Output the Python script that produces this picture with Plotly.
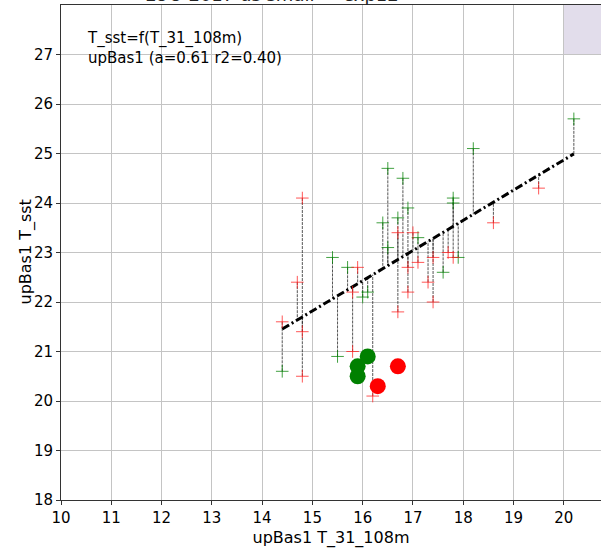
import plotly.graph_objects as go

# ---- data ----
green_x = [14.4, 15.4, 15.5, 15.7, 16.0, 16.1, 16.4, 16.5, 16.5, 16.7, 16.8, 16.9, 17.1, 17.6, 17.8, 17.8, 17.9, 18.2, 20.2]
green_y = [20.6, 22.9, 20.9, 22.7, 22.1, 22.2, 23.6, 24.7, 23.1, 23.7, 24.5, 23.9, 23.3, 22.6, 24.1, 24.0, 22.9, 25.1, 25.7]
red_x = [14.4, 14.7, 14.8, 14.8, 14.8, 15.8, 15.8, 15.9, 16.2, 16.7, 16.7, 16.9, 16.9, 17.0, 17.1, 17.3, 17.4, 17.4, 17.7, 17.8, 18.6, 19.5]
red_y = [21.6, 22.4, 24.1, 21.4, 20.5, 22.2, 21.0, 22.7, 20.1, 23.4, 21.8, 22.7, 22.2, 23.4, 22.8, 22.4, 22.9, 22.0, 23.0, 22.9, 23.6, 24.3]
green_big_x = [15.9, 15.9, 16.1]
green_big_y = [20.7, 20.5, 20.9]
red_big_x = [16.3, 16.7]
red_big_y = [20.3, 20.7]
slope_a = 0.61
intercept_b = 12.67
x_ticks = list(range(10, 21))
y_ticks = list(range(18, 28))

def fit(x):
    return slope_a * x + intercept_b

all_x = green_x + red_x
all_y = green_y + red_y

fig = go.Figure()

# residual lines
lx, ly = [], []
for x, y in zip(all_x, all_y):
    lx += [x, x, None]
    ly += [y, fit(x), None]
fig.add_trace(go.Scatter(x=lx, y=ly, mode="lines",
                         line=dict(color="rgba(20,20,20,0.9)", width=0.8, dash="3px,1px"),
                         hoverinfo="skip", showlegend=False))

# regression line
xmin, xmax = min(all_x), max(all_x)
fig.add_trace(go.Scatter(x=[xmin, xmax], y=[fit(xmin), fit(xmax)], mode="lines",
                         line=dict(color="black", width=3, dash="8px,3px,2px,3px"),
                         showlegend=False))

fig.add_trace(go.Scatter(x=green_x, y=green_y, mode="markers",
                         marker=dict(symbol="cross-thin", size=9,
                                     line=dict(color="rgba(0,128,0,0.75)", width=1)),
                         showlegend=False))
fig.add_trace(go.Scatter(x=red_x, y=red_y, mode="markers",
                         marker=dict(symbol="cross-thin", size=9,
                                     line=dict(color="rgba(255,30,30,0.75)", width=1)),
                         showlegend=False))
fig.add_trace(go.Scatter(x=green_big_x, y=green_big_y, mode="markers",
                         marker=dict(size=16, color="green"), showlegend=False))
fig.add_trace(go.Scatter(x=red_big_x, y=red_big_y, mode="markers",
                         marker=dict(size=16, color="red"), showlegend=False))

# shaded corner
fig.add_shape(type="rect", xref="x", yref="y", x0=20, x1=20.75, y0=27, y1=28,
              fillcolor="#e2ddeb", line=dict(width=0), layer="below")

fig.add_annotation(xref="paper", yref="paper", x=0.045, y=0.955, xanchor="left", yanchor="top",
                   text="T_sst=f(T_31_108m)<br>upBas1 (a=0.61 r2=0.40)", showarrow=False, align="left",
                   font=dict(size=15, color="black", family="DejaVu Sans"))

fig.add_annotation(xref="paper", yref="paper", x=0.39, y=1.0, xanchor="center", yanchor="bottom",
                   yshift=-2,
                   text="LOO 2017 us small     exp12", showarrow=False,
                   font=dict(size=18, color="#222", family="DejaVu Sans"))

# y-axis title as annotation for exact placement
fig.add_annotation(xref="paper", yref="paper", x=0, y=0.5, xanchor="center", yanchor="middle",
                   xshift=-36, textangle=-90, text="upBas1 T_sst", showarrow=False,
                   font=dict(size=16, color="black", family="DejaVu Sans"))

axis_common = dict(showgrid=True, gridcolor="#c4c4c4", gridwidth=1,
                   showline=True, linecolor="#333", linewidth=1,
                   ticks="outside", ticklen=4, tickcolor="#333", zeroline=False,
                   tickfont=dict(size=15, color="black", family="DejaVu Sans"))

fig.update_xaxes(range=[10, 20.74], tickvals=x_ticks, mirror=True,
                 title=dict(text="upBas1 T_31_108m", font=dict(size=16, color="black", family="DejaVu Sans"), standoff=10),
                 **axis_common)
fig.update_yaxes(range=[18, 28], tickvals=y_ticks, mirror=False,
                 **axis_common)

fig.update_layout(width=601, height=548, margin=dict(l=61, r=0, t=5, b=43),
                  paper_bgcolor="white", plot_bgcolor="white",
                  font=dict(family="DejaVu Sans"))

fig.write_html("out.html")
